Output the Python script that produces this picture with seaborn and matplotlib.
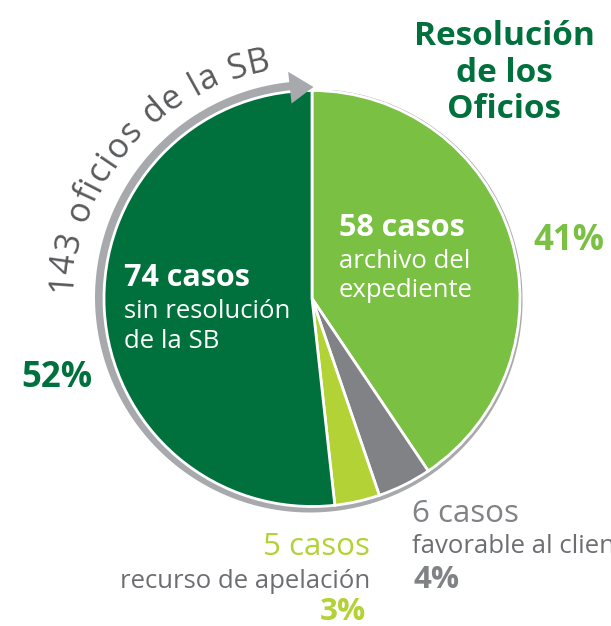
import numpy as np
import matplotlib
matplotlib.use('Agg')
import matplotlib.pyplot as plt
from matplotlib.patches import Polygon
from matplotlib.textpath import TextToPath
from matplotlib.font_manager import FontProperties
import seaborn as sns

# datos
categorias = ['archivo del expediente', 'favorable al cliente',
              'recurso de apelación', 'sin resolución de la SB']
casos = [58, 6, 5, 74]
porcentajes = ['41%', '4%', '3%', '52%']
total_oficios = 143
titulo = ['Resolución', 'de los', 'Oficios']

FUENTE = 'Open Sans'
sns.set_theme(style='white')
plt.rcParams['font.family'] = [FUENTE, 'DejaVu Sans']

VERDE_OSCURO = '#00703c'
VERDE_CLARO = '#7ac143'
GRIS = '#808285'
LIMA = '#b2d235'
GRIS_ARCO = '#a7a9ac'
GRIS_TEXTO = '#6d6e71'
colores = [VERDE_CLARO, GRIS, LIMA, VERDE_OSCURO]

W, H = 611, 626
CX, CY, R = 312, 298.5, 208

FS_TITULO = 24
FS_CASOS = 22
FS_TEXTO = 18.5
FS_PCT = 25
FS_PCT_CHICO = 22.5


def py(y):
    return H - y


def polar(theta, r):
    t = np.deg2rad(theta)
    return CX + r * np.cos(t), py(CY) + r * np.sin(t)


fig = plt.figure(figsize=(W / 100, H / 100), dpi=100)
ax = fig.add_axes([0, 0, 1, 1])

# anillo gris detras del pastel (grosor creciente hacia la flecha)
phi = np.linspace(-84.5, 264.5, 400)
ancho = np.interp(phi, [-84.5, 0, 90, 180, 264.5], [1.5, 2.5, 6, 9, 9.5])
theta = -phi
outer = [polar(t, R + w) for t, w in zip(theta, ancho)]
inner = [polar(t, R - 6) for t in theta[::-1]]
ax.add_patch(Polygon(outer + inner, closed=True, fc=GRIS_ARCO, ec='none', zorder=0))

ax.pie(
    casos,
    colors=colores,
    startangle=90,
    counterclock=False,
    center=(CX, py(CY)),
    radius=R,
    wedgeprops=dict(edgecolor='white', linewidth=2, zorder=1),
)

# punta de flecha
punta = [polar(96, R - 12), polar(96, R + 20), polar(89.6, R + 3.5)]
ax.add_patch(Polygon(punta, closed=True, fc=GRIS_ARCO, ec='none', zorder=2))

# texto curvo sobre el arco
texto_arco = f'{total_oficios} oficios de la SB'
fs_px = 34
fp = FontProperties(family=FUENTE, size=fs_px)
ttp = TextToPath()
anchos = []
for ch in texto_arco:
    if ch == ' ':
        w = 0.26 * fs_px
    else:
        w = ttp.get_text_width_height_descent(ch, fp, ismath=False)[0]
        if ch == '1':
            w *= 0.6  # el "1" de Open Sans es tabular y queda separado
    anchos.append(w)
anchos = np.array(anchos)

theta_ini, r_medio = 177.5, 236
espacio = 1.2
largo = anchos.sum() + espacio * (len(texto_arco) - 1)
s = 0.0
for ch, w in zip(texto_arco, anchos):
    centro = s + w / 2
    s += w + espacio
    r = 241 - 9 * centro / largo
    th = theta_ini - np.rad2deg(centro / r_medio)
    if ch == ' ':
        continue
    x, y = polar(th, r)
    ax.text(x, y, ch, rotation=th - 90, rotation_mode='anchor',
            ha='center', va='baseline', fontsize=fs_px * 0.72,
            color='#58595b', zorder=3)

# titulo
for linea, yb in zip(titulo, [45, 82, 118]):
    ax.text(504, py(yb), linea, ha='center', va='baseline', fontsize=FS_TITULO,
            fontweight='bold', color=VERDE_OSCURO)

# etiquetas dentro del pastel
ax.text(339, py(236), f'{casos[0]} casos', fontsize=FS_CASOS, fontweight='bold',
        color='white', va='baseline', zorder=3)
ax.text(339, py(268), 'archivo del', fontsize=FS_TEXTO, color='white',
        va='baseline', zorder=3)
ax.text(339, py(297), 'expediente', fontsize=FS_TEXTO, color='white',
        va='baseline', zorder=3)

ax.text(124, py(286), f'{casos[3]} casos', fontsize=FS_CASOS, fontweight='bold',
        color='white', va='baseline', zorder=3)
ax.text(124, py(318), 'sin resolución', fontsize=FS_TEXTO, color='white',
        va='baseline', zorder=3)
ax.text(124, py(348), 'de la SB', fontsize=FS_TEXTO, color='white',
        va='baseline', zorder=3)

# porcentajes grandes
ax.text(569, py(250), porcentajes[0], ha='center', va='baseline', fontsize=FS_PCT,
        fontweight='bold', color=VERDE_CLARO)
ax.text(57, py(387), porcentajes[3], ha='center', va='baseline', fontsize=FS_PCT,
        fontweight='bold', color=VERDE_OSCURO)

# etiquetas inferiores
ax.text(412, py(522), f'{casos[1]} casos', fontsize=FS_PCT_CHICO, color=GRIS,
        va='baseline')
ax.text(412, py(553), categorias[1], fontsize=FS_TEXTO, color=GRIS_TEXTO,
        va='baseline')
ax.text(414, py(588), porcentajes[1], fontsize=FS_PCT_CHICO, fontweight='bold',
        color=GRIS, va='baseline')

ax.text(370, py(555), f'{casos[2]} casos', fontsize=FS_PCT_CHICO, color=LIMA,
        ha='right', va='baseline')
ax.text(370, py(588), categorias[2], fontsize=FS_TEXTO, color=GRIS_TEXTO,
        ha='right', va='baseline')
ax.text(366, py(620), porcentajes[2], fontsize=FS_PCT_CHICO, fontweight='bold',
        color=LIMA, ha='right', va='baseline')

ax.set_xlim(0, W)
ax.set_ylim(0, H)
ax.set_aspect('equal')
ax.axis('off')

fig.savefig('out.png', dpi=100)
